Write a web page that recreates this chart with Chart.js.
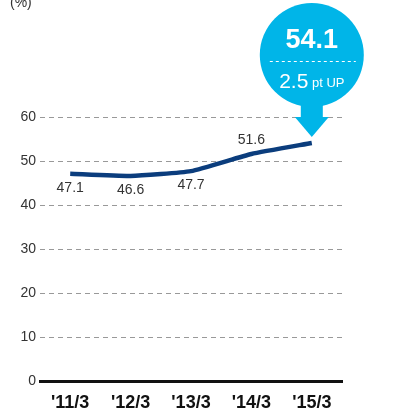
<!DOCTYPE html>
<html>
<head>
<meta charset="utf-8">
<script src="https://cdn.jsdelivr.net/npm/chart.js@4"></script>
<style>
  html, body { margin: 0; padding: 0; background: #fff; }
  #wrap { position: relative; width: 403px; height: 409px; }
  #unit { position: absolute; left: 10px; top: -6px; font: 14px "Liberation Sans Narrow", "Liberation Sans", sans-serif; color: #333; }
</style>
</head>
<body>
<div id="wrap">
  <canvas id="chart" width="403" height="409"></canvas>
  <div id="unit">(%)</div>
</div>
<script>
// Data
const categories = ["'11/3", "'12/3", "'13/3", "'14/3", "'15/3"];
const ratio = [47.1, 46.6, 47.7, 51.6, 54.1];
const yTicks = [0, 10, 20, 30, 40, 50, 60];
const labelSide = ['below', 'below', 'below', 'above', 'none'];
const highlightText = '54.1';
const highlightSub = '2.5';

const FONT = '"Liberation Sans Narrow", "Liberation Sans", sans-serif';

// Value labels next to each point
const valueLabels = {
    id: 'valueLabels',
    afterDatasetsDraw(chart) {
        const ctx = chart.ctx;
        const meta = chart.getDatasetMeta(0);
        ctx.save();
        ctx.font = '14px ' + FONT;
        ctx.fillStyle = '#333';
        ctx.textAlign = 'center';
        ctx.textBaseline = 'middle';
        meta.data.forEach((pt, i) => {
            if (labelSide[i] === 'none') return;
            const dy = labelSide[i] === 'below' ? 14 : -14;
            ctx.fillText(ratio[i].toFixed(1), pt.x, pt.y + dy);
        });
        ctx.restore();
    }
};

// Callout bubble over the last point
const callout = {
    id: 'callout',
    afterDatasetsDraw(chart) {
        const ctx = chart.ctx;
        const meta = chart.getDatasetMeta(0);
        const pt = meta.data[meta.data.length - 1];
        const cx = pt.x;
        const tipY = pt.y - 6;
        const cy = 55;
        const r = 52;
        ctx.save();
        ctx.fillStyle = '#00b5e8';
        ctx.beginPath();
        ctx.arc(cx, cy, r, 0, Math.PI * 2);
        ctx.fill();
        ctx.fillRect(cx - 11, cy + r - 4, 22, tipY - 20 - (cy + r - 4) + 1);
        ctx.beginPath();
        ctx.moveTo(cx - 17, tipY - 20);
        ctx.lineTo(cx + 17, tipY - 20);
        ctx.lineTo(cx, tipY);
        ctx.closePath();
        ctx.fill();

        ctx.fillStyle = '#fff';
        ctx.textAlign = 'center';
        ctx.textBaseline = 'middle';
        ctx.font = 'bold 27px ' + FONT;
        ctx.fillText(highlightText, cx, cy - 14);

        ctx.strokeStyle = '#fff';
        ctx.lineWidth = 1;
        ctx.setLineDash([3, 3]);
        ctx.beginPath();
        ctx.moveTo(cx - 42, cy + 6.5);
        ctx.lineTo(cx + 44, cy + 6.5);
        ctx.stroke();

        ctx.font = '21px ' + FONT;
        const w1 = ctx.measureText(highlightSub).width;
        ctx.font = '13px ' + FONT;
        const w2 = ctx.measureText(' pt UP').width;
        const x0 = cx - (w1 + w2) / 2;
        ctx.textAlign = 'left';
        ctx.textBaseline = 'alphabetic';
        ctx.font = '21px ' + FONT;
        ctx.fillText(highlightSub, x0, cy + 33);
        ctx.font = '13px ' + FONT;
        ctx.fillText(' pt UP', x0 + w1, cy + 32);
        ctx.restore();
    }
};

new Chart(document.getElementById('chart'), {
    type: 'line',
    data: {
        labels: categories,
        datasets: [{
            data: ratio,
            borderColor: '#0b3d7d',
            borderWidth: 4.5,
            pointRadius: 0,
            tension: 0.15
        }]
    },
    options: {
        responsive: false,
        animation: false,
        events: [],
        layout: { padding: { top: 117, right: 61, left: 0, bottom: 0 } },
        plugins: { legend: { display: false }, tooltip: { enabled: false } },
        scales: {
            x: {
                offset: true,
                grid: { display: false },
                border: { color: '#111', width: 3 },
                ticks: {
                    color: '#111',
                    padding: 3,
                    font: { family: FONT, size: 18, weight: 'bold' }
                },
                afterFit(scale) { scale.height = 28; }
            },
            y: {
                min: 0,
                max: 60,
                afterBuildTicks(scale) { scale.ticks = yTicks.map(v => ({ value: v })); },
                grid: { color: '#999', drawTicks: false, lineWidth: 1 },
                border: { display: false, dash: [5, 4] },
                ticks: {
                    color: '#333',
                    padding: 4,
                    font: { family: FONT, size: 14 }
                },
                afterFit(scale) { scale.width = 40; }
            }
        }
    },
    plugins: [valueLabels, callout]
});
</script>
</body>
</html>
